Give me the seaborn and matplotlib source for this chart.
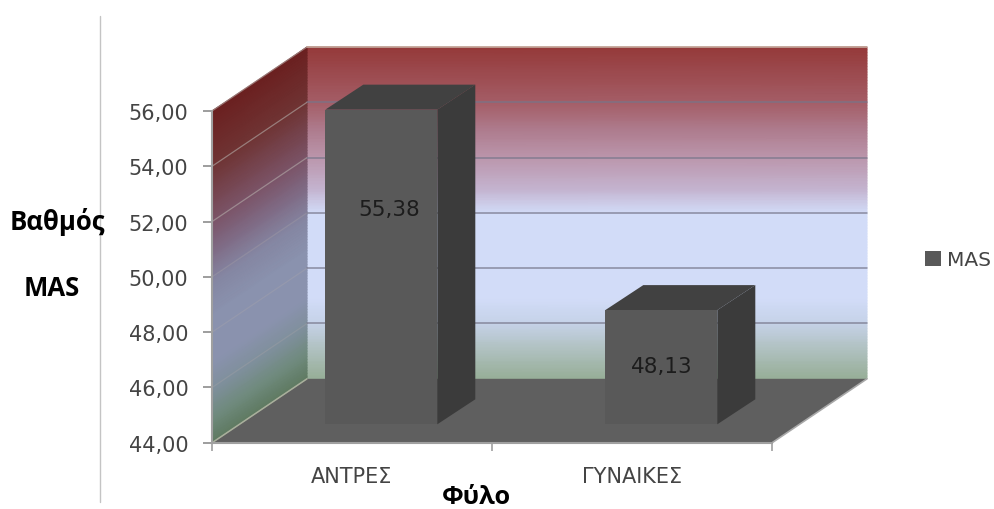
import numpy as np
import pandas as pd
import matplotlib
matplotlib.use("Agg")
import matplotlib.pyplot as plt
from matplotlib.colors import LinearSegmentedColormap
from matplotlib.lines import Line2D
from matplotlib.patches import Patch, Polygon
import seaborn as sns

# Mean MAS score by sex
categories = ["ΑΝΤΡΕΣ", "ΓΥΝΑΙΚΕΣ"]
mas_scores = [55.38, 48.13]
label_heights = [51.8, 46.1]
label_shifts = [0.028, 0.0]
y_ticks = [44, 46, 48, 50, 52, 54, 56]

W, H = 995, 510


def frame(left, top, right, bottom):
    """Axes rectangle in figure fractions from pixel edges."""
    return [left / W, 1 - bottom / H, (right - left) / W, (bottom - top) / H]


def comma(value):
    return f"{value:.2f}".replace(".", ",")


sns.set_theme(style="white")
TICK_FONT = "DejaVu Sans"
BOLD_FONT = "Open Sans"
TEXT = "#444444"

fig = plt.figure(figsize=(W / 100, H / 100), dpi=100, facecolor="white")
ax = fig.add_axes(frame(212, 112, 772, 443.8))
ax.set_facecolor("none")

# Depth of the chart box, in data units
depth_x = 95 / 280
depth_y = 64 / 27.65
ymin, ymax = min(y_ticks), max(y_ticks)
xmin, xmax = -0.5, 1.5

wall_cmap = LinearSegmentedColormap.from_list("wall", [
    (0.00, "#953a3a"), (0.165, "#a45d66"), (0.25, "#ae7c8e"), (0.333, "#bb96ac"),
    (0.43, "#c4b4d0"), (0.50, "#d2dcf8"), (0.76, "#d2dcf8"), (0.835, "#c5d2e8"),
    (0.895, "#b5c5c9"), (1.00, "#97ae98")])
side_cmap = LinearSegmentedColormap.from_list("side", [
    (0.00, "#6b2020"), (0.165, "#6f3434"), (0.333, "#7b5468"), (0.42, "#7f6a84"),
    (0.52, "#8587a3"), (0.62, "#8a92ae"), (0.76, "#8a92ae"), (0.85, "#7e8f9a"),
    (0.93, "#6f8a7c"), (1.00, "#5f7a62")])

v = np.linspace(0, 1, 120)

# Back wall
xs = np.array([xmin, xmax]) + depth_x
X, V = np.meshgrid(xs, v)
Y = ymax - V * (ymax - ymin) + depth_y
ax.pcolormesh(X, Y, V, cmap=wall_cmap, vmin=0, vmax=1, shading="gouraud",
              clip_on=False, zorder=1)

# Left side wall
u = np.array([0.0, 1.0])
U, V = np.meshgrid(u, v)
X = xmin + U * depth_x
Y = ymax - V * (ymax - ymin) + U * depth_y
ax.pcolormesh(X, Y, V, cmap=side_cmap, vmin=0, vmax=1, shading="gouraud",
              clip_on=False, zorder=1)

# Floor
ax.add_patch(Polygon([(xmin, ymin), (xmin + depth_x, ymin + depth_y),
                      (xmax + depth_x, ymin + depth_y), (xmax, ymin)],
                     closed=True, facecolor="#5f5f5f", edgecolor="none",
                     clip_on=False, zorder=2))

# Gridlines on the walls and top edge
for t in y_ticks:
    top_edge = t == ymax
    if t > ymin:
        ax.plot([xmin + depth_x, xmax + depth_x], [t + depth_y] * 2,
                color="#c9b3a5" if top_edge else "#76768a", lw=1.1,
                alpha=1 if top_edge else 0.8, clip_on=False, zorder=3)
    ax.plot([xmin, xmin + depth_x], [t, t + depth_y],
            color="#b5adaa", lw=0.9, alpha=0.6 if t > 50 else 0.25,
            clip_on=False, zorder=3, solid_capstyle="butt")
ax.plot([xmax, xmax + depth_x], [ymin, ymin + depth_y], color="#a8a8a8", lw=1.2,
        clip_on=False, zorder=3)
ax.plot([xmin, xmin + depth_x], [ymin, ymin + depth_y], color="#a9b09c", lw=1.1,
        clip_on=False, zorder=3)

ax.set_xlim(xmin, xmax)
ax.set_ylim(ymin, ymax)
ax.set_yticks(y_ticks, [comma(t) for t in y_ticks], fontsize=15,
              family=TICK_FONT, color=TEXT)
ax.set_xticks([0, 1], categories, fontsize=15, family=TICK_FONT, color=TEXT)
ax.set_xticks([xmin, 0.5, xmax], minor=True)
ax.tick_params(axis="y", which="major", left=True, length=6.5, width=1.2,
               color="#8c8c8c", pad=10.5)
ax.tick_params(axis="x", which="major", bottom=False, pad=11)
ax.tick_params(axis="x", which="minor", bottom=True, length=6, width=1.2,
               color="#a0a0a0")
for side, spine in ax.spines.items():
    spine.set_visible(side in ("left", "bottom"))
    spine.set_color("#a0a0a0")
    spine.set_linewidth(1.5)
    spine.set_zorder(4)

# Bars sit part-way into the box, on an overlay shifted along the depth
ax_bars = fig.add_axes(frame(212 + 29.3, 112 - 18.5, 772 + 29.3, 443.8 - 18.5))
df = pd.DataFrame({"Φύλο": categories, "MAS": mas_scores})
sns.barplot(data=df, x="Φύλο", y="MAS", ax=ax_bars, color="#595959", width=0.4,
            saturation=1, edgecolor="none", zorder=3)
ax_bars.set_xlim(xmin, xmax)
ax_bars.set_ylim(ymin, ymax)
ax_bars.axis("off")
ax_bars.patch.set_visible(False)

bar_dx = 38 / 280
bar_dy = 25 / 27.65
for bar, score, label_y, shift in zip(ax_bars.patches, mas_scores, label_heights, label_shifts):
    x0, x1 = bar.get_x(), bar.get_x() + bar.get_width()
    ax_bars.add_patch(Polygon(
        [(x0, score), (x0 + bar_dx, score + bar_dy),
         (x1 + bar_dx, score + bar_dy), (x1, score)],
        closed=True, facecolor="#414141", edgecolor="none", clip_on=False, zorder=2))
    ax_bars.add_patch(Polygon(
        [(x1, ymin), (x1, score), (x1 + bar_dx, score + bar_dy),
         (x1 + bar_dx, ymin + bar_dy)],
        closed=True, facecolor="#3b3b3b", edgecolor="none", clip_on=False, zorder=2))
    ax_bars.text((x0 + x1) / 2 + shift, label_y, comma(score), ha="center", va="center",
                 fontsize=15.5, family=TICK_FONT, color="#1c1c1c", zorder=5)

# Axis titles and legend
fig.text(57 / W, 1 - 222 / H, "Βαθμός", ha="center", va="center",
         fontsize=18.5, family=BOLD_FONT, weight="bold", color="black")
fig.text(52 / W, 1 - 288 / H, "MAS", ha="center", va="center",
         fontsize=18.5, family=BOLD_FONT, weight="bold", color="black")
fig.text(476 / W, 1 - 498 / H, "Φύλο", ha="center", va="center",
         fontsize=18.3, family=BOLD_FONT, weight="bold", color="black")

fig.legend(handles=[Patch(facecolor="#595959", edgecolor="none", label="MAS")],
           loc="center left", bbox_to_anchor=(925 / W, 1 - 261 / H), frameon=False,
           prop={"family": TICK_FONT, "size": 14.5}, labelcolor=TEXT,
           handlelength=0.8, handleheight=0.7, handletextpad=0.3,
           borderpad=0, borderaxespad=0)

# Thin rule left of the plot
fig.add_artist(Line2D([100 / W, 100 / W], [1 - 17 / H, 1 - 503 / H], color="#c4c4c4", lw=1))

fig.savefig("out.png", dpi=100, facecolor="white")
